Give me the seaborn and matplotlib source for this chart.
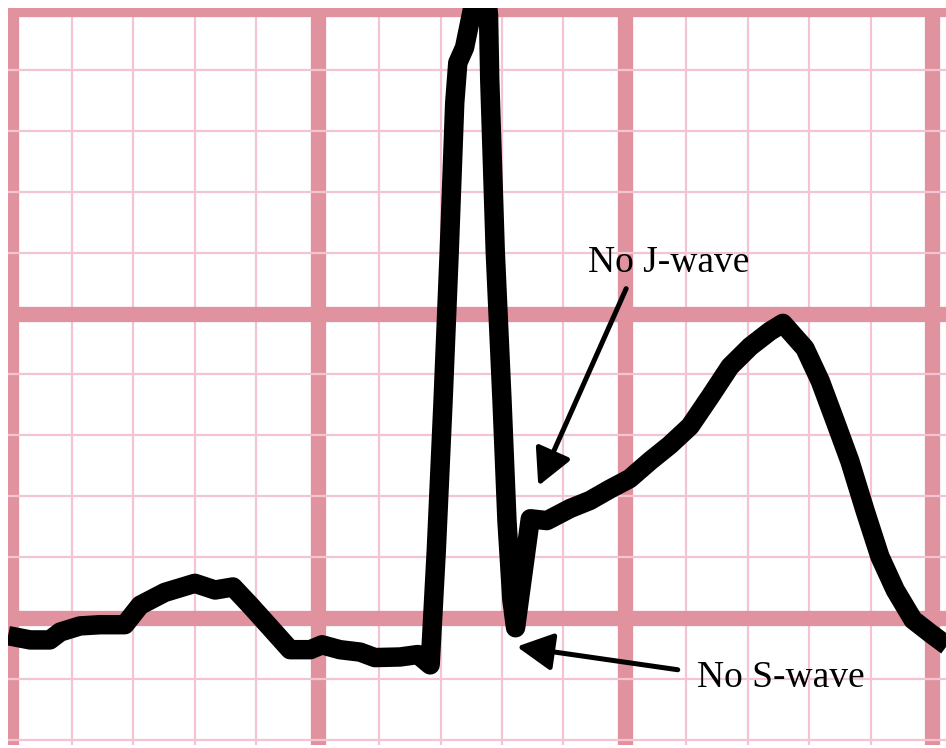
import matplotlib
matplotlib.use("Agg")
import matplotlib.pyplot as plt
import seaborn as sns
from matplotlib.patches import ArrowStyle

# ECG trace, in grid units (1 small box = 1 unit, baseline at 0)
trace_x = [-0.04, 0.32, 0.64, 0.81, 1.13, 1.46, 1.86, 2.11, 2.51, 3.00,
           3.33, 3.62, 3.90, 4.31, 4.55, 4.88, 5.07, 5.36, 5.69, 5.93,
           6.34, 6.63, 6.83, 6.93, 7.04, 7.14, 7.23, 7.28, 7.39, 7.59,
           7.71, 7.78, 7.80, 7.89, 8.00, 8.08, 8.16, 8.22, 8.46, 8.73,
           9.11, 9.43, 9.76, 10.08, 10.41, 10.73, 11.06, 11.39, 11.71, 12.04,
           12.36, 12.57, 12.93, 13.18, 13.42, 13.66, 13.91, 14.15, 14.40, 14.69,
           14.97, 15.29]
trace_y = [-0.29, -0.36, -0.36, -0.23, -0.13, -0.11, -0.11, 0.21, 0.42, 0.57,
           0.46, 0.51, 0.21, -0.25, -0.52, -0.52, -0.44, -0.52, -0.56, -0.65,
           -0.64, -0.60, -0.77, 1.11, 3.56, 6.01, 8.46, 9.12, 9.37, 10.35,
           10.60, 9.90, 8.84, 6.01, 3.56, 1.60, 0.30, -0.16, 1.63, 1.60,
           1.80, 1.93, 2.12, 2.29, 2.58, 2.84, 3.15, 3.64, 4.13, 4.46,
           4.71, 4.84, 4.43, 3.89, 3.24, 2.58, 1.76, 1.01, 0.46, -0.03,
           -0.25, -0.49]

labels = ["No J-wave", "No S-wave"]
label_x = [9.40, 11.17]
label_y = [5.69, -1.13]
arrow_tail_x = [10.02, 10.86]
arrow_tail_y = [5.41, -0.85]
arrow_tip_x = [8.59, 8.24]
arrow_tip_y = [2.17, -0.47]

MAJOR_COLOR = "#E0929E"
MINOR_COLOR = "#F4C4D2"

sns.set_style("white")

fig = plt.figure(figsize=(9.46, 7.48), dpi=100)
ax = fig.add_axes([8 / 946, 3 / 748, 938 / 946, 737 / 748])

sns.lineplot(x=trace_x, y=trace_y, sort=False, estimator=None, color="black",
             lw=14, ax=ax)
ax.lines[-1].set_solid_joinstyle("round")
ax.lines[-1].set_solid_capstyle("butt")

ax.set_xticks(range(0, 16, 5))
ax.set_xticks(range(-1, 16), minor=True)
ax.set_yticks(range(0, 11, 5))
ax.set_yticks(range(-2, 11), minor=True)
# limits after the ticks, otherwise set_ticks widens the view
ax.set_xlim(-0.041, 15.226)
ax.set_ylim(-2.086, 10.02)

ax.grid(which="major", color=MAJOR_COLOR, lw=11)
ax.grid(which="minor", color=MINOR_COLOR, lw=1.6)
ax.set_axisbelow(True)
ax.tick_params(which="both", length=0, labelbottom=False, labelleft=False)
ax.set_xlabel("")
ax.set_ylabel("")
for s in ax.spines.values():
    s.set_visible(False)

head = ArrowStyle("-|>", head_length=1.0, head_width=0.52)
for i in range(len(labels)):
    ax.text(label_x[i], label_y[i], labels[i], ha="left", va="baseline",
            fontsize=27, color="black",
            family=["Liberation Serif", "DejaVu Serif"])
    ax.annotate("", xy=(arrow_tip_x[i], arrow_tip_y[i]),
                xytext=(arrow_tail_x[i], arrow_tail_y[i]),
                arrowprops=dict(arrowstyle=head, mutation_scale=22, lw=3.6,
                                color="black", shrinkA=0, shrinkB=0))

fig.savefig("out.png", dpi=100, facecolor="white")
